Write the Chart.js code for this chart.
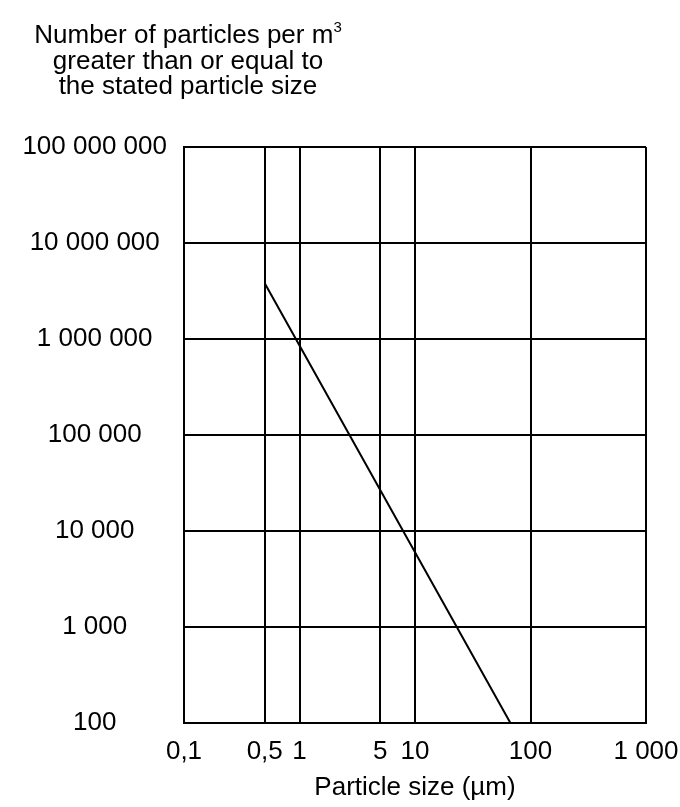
<!DOCTYPE html>
<html>
<head>
<meta charset="utf-8">
<script src="https://cdn.jsdelivr.net/npm/chart.js@4/dist/chart.umd.min.js"></script>
<style>
  body { margin: 0; background: #fff; }
  #wrap { position: relative; width: 680px; height: 807px; }
  #title {
    position: absolute; left: 28px; top: 22px; width: 320px;
    font-family: "Liberation Sans", Arial, sans-serif; font-size: 26px;
    line-height: 25.5px; text-align: center; color: #000;
  }
  #title sup { font-size: 15px; line-height: 0; vertical-align: 11px; }
</style>
</head>
<body>
<div id="wrap">
  <canvas id="chart" width="680" height="807"></canvas>
  <div id="title">Number of particles per m<sup>3</sup><br>greater than or equal to<br>the stated particle size</div>
</div>
<script>
// tick values and labels
const xTickValues = [0.1, 0.5, 1, 5, 10, 100, 1000];
const xTickLabels = ['0,1', '0,5', '1', '5', '10', '100', '1 000'];
const yTickValues = [100, 1000, 10000, 100000, 1000000, 10000000, 100000000];
const yTickLabels = ['100', '1 000', '10 000', '100 000', '1 000 000', '10 000 000', '100 000 000'];

// line
const sizes = [0.5, 1, 10, 67];
const counts = [3800000, 855000, 6000, 100];

const font = { family: '"Liberation Sans", Arial, sans-serif', size: 26, lineHeight: 1.2 };

const ctx = document.getElementById('chart').getContext('2d');
new Chart(ctx, {
    type: 'scatter',
    data: {
        datasets: [{
            data: sizes.map((s, i) => ({ x: s, y: counts[i] })),
            showLine: true,
            borderColor: '#000',
            borderWidth: 2,
            pointRadius: 0,
            tension: 0
        }]
    },
    options: {
        responsive: false,
        animation: false,
        layout: { padding: { top: 147, right: 34, left: 0, bottom: 0 } },
        plugins: { legend: { display: false }, tooltip: { enabled: false } },
        scales: {
            x: {
                type: 'logarithmic',
                min: 0.1,
                max: 1000,
                afterBuildTicks: s => { s.ticks = xTickValues.map(v => ({ value: v })); },
                afterFit: s => { s.height = 84; s.paddingRight = 0; s.paddingLeft = 0; },
                grid: { color: '#000', lineWidth: 2, drawTicks: false },
                border: { color: '#000', width: 2 },
                ticks: {
                    color: '#000', font: font, padding: 13, autoSkip: false, maxRotation: 0,
                    callback: v => xTickLabels[xTickValues.indexOf(v)]
                },
                title: {
                    display: true, text: 'Particle size (µm)', color: '#000',
                    font: font, padding: { top: 0, bottom: 4 }
                }
            },
            y: {
                type: 'logarithmic',
                min: 100,
                max: 100000000,
                afterBuildTicks: s => { s.ticks = yTickValues.map(v => ({ value: v })); },
                afterFit: s => { s.width = 184; s.paddingTop = 0; s.paddingBottom = 0; },
                grid: { color: '#000', lineWidth: 2, drawTicks: false },
                border: { color: '#000', width: 2 },
                ticks: {
                    color: '#000', font: font, padding: 17, autoSkip: false,
                    crossAlign: 'center',
                    callback: v => yTickLabels[yTickValues.indexOf(v)]
                }
            }
        }
    }
});
</script>
</body>
</html>
